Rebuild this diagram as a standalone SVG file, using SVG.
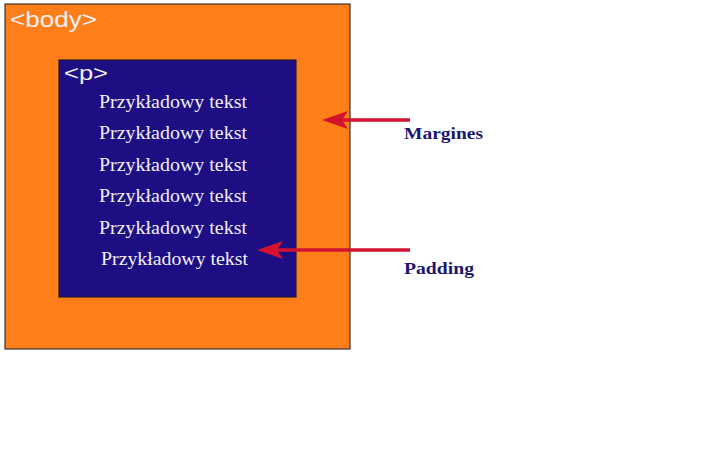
<svg xmlns="http://www.w3.org/2000/svg" width="716" height="464" viewBox="0 0 716 464">
<defs>
<style>
.tag{font-family:"Liberation Sans",Arial,sans-serif;fill:#f2f0f4}
.txt{font-family:"Liberation Serif","Times New Roman",serif;font-size:19.5px;fill:#f2eef6}
.lbl{font-family:"Liberation Serif","Times New Roman",serif;font-size:17px;font-weight:bold;fill:#1c1670}
.conn{stroke:#d2122e;stroke-width:3.5;fill:none}
</style>
<marker id="ah" markerUnits="userSpaceOnUse" markerWidth="30" markerHeight="22" refX="7" refY="10" orient="auto" viewBox="0 0 30 20">
<path d="M26,10 L0,1 L6,10 L0,19 Z" fill="#d2122e"/>
</marker>
</defs>
<rect width="716" height="464" fill="#ffffff"/>
<g id="body">
<rect x="5" y="4" width="345" height="345" fill="#fe7f19" stroke="#3a3030" stroke-width="1.2"/>
<text class="tag" x="10" y="27" font-size="22" textLength="87" lengthAdjust="spacingAndGlyphs">&lt;body&gt;</text>
</g>
<g id="p">
<rect x="59" y="60" width="237" height="237" fill="#1d0e84" stroke="#2a1a30" stroke-width="1.2"/>
<text class="tag" x="64" y="80" font-size="21" textLength="44" lengthAdjust="spacingAndGlyphs">&lt;p&gt;</text>
<text class="txt" x="99" y="108" textLength="148" lengthAdjust="spacingAndGlyphs">Przykładowy tekst</text>
<text class="txt" x="99" y="139" textLength="148" lengthAdjust="spacingAndGlyphs">Przykładowy tekst</text>
<text class="txt" x="99" y="171" textLength="148" lengthAdjust="spacingAndGlyphs">Przykładowy tekst</text>
<text class="txt" x="99" y="202" textLength="148" lengthAdjust="spacingAndGlyphs">Przykładowy tekst</text>
<text class="txt" x="99" y="234" textLength="148" lengthAdjust="spacingAndGlyphs">Przykładowy tekst</text>
<text class="txt" x="101" y="265" textLength="147" lengthAdjust="spacingAndGlyphs">Przykładowy tekst</text>
</g>
<g id="margines">
<text class="lbl" x="404" y="139" textLength="79" lengthAdjust="spacingAndGlyphs">Margines</text>
</g>
<g id="padding">
<text class="lbl" x="404" y="274" textLength="70" lengthAdjust="spacingAndGlyphs">Padding</text>
</g>
<g id="connectors">
<line class="conn" x1="410" y1="120" x2="341" y2="120" marker-end="url(#ah)"/>
<line class="conn" x1="410" y1="250" x2="276" y2="250" marker-end="url(#ah)"/>
</g>
</svg>
